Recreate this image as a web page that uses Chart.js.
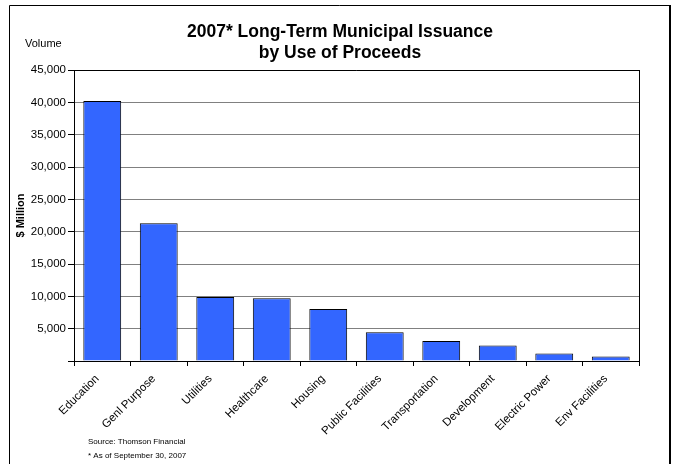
<!DOCTYPE html>
<html>
<head>
<meta charset="utf-8">
<script src="https://cdn.jsdelivr.net/npm/chart.js@4"></script>
<style>
  html, body { margin: 0; padding: 0; background: #fff; }
  #wrap { width: 676px; height: 464px; position: relative; }
</style>
</head>
<body>
<div id="wrap"><canvas id="c" width="676" height="464"></canvas></div>
<script>
const categories = ['Education', 'Genl Purpose', 'Utilities', 'Healthcare', 'Housing',
  'Public Facilities', 'Transportation', 'Development', 'Electric Power', 'Env Facilities'];
const volumes = [40200, 21300, 9900, 9700, 8050, 4450, 3100, 2400, 1150, 700];
const yMin = 0;
const yMax = 45000;
const yStep = 5000;
const titleLines = ['2007* Long-Term Municipal Issuance', 'by Use of Proceeds'];
const unitLabel = 'Volume';
const yAxisTitle = '$ Million';
const sourceLines = ['Source: Thomson Financial', '* As of September 30, 2007'];

const FONT = '"Liberation Sans", Arial, sans-serif';

const decor = {
  id: 'decor',
  beforeDatasetsDraw(chart) {
    const ctx = chart.ctx;
    const a = chart.chartArea;
    ctx.save();
    ctx.strokeStyle = '#000';
    ctx.lineWidth = 1;
    ctx.beginPath();
    ctx.moveTo(a.left, Math.round(a.top) + 0.5);
    ctx.lineTo(a.right, Math.round(a.top) + 0.5);
    ctx.moveTo(Math.round(a.right) + 0.5, a.top);
    ctx.lineTo(Math.round(a.right) + 0.5, a.bottom);
    ctx.stroke();
    ctx.restore();
  },
  afterDraw(chart) {
    const ctx = chart.ctx;
    ctx.save();
    // outer frame
    ctx.strokeStyle = '#000';
    ctx.lineWidth = 1;
    ctx.beginPath();
    ctx.moveTo(9.5, 470);
    ctx.lineTo(9.5, 5.5);
    ctx.lineTo(669, 5.5);
    ctx.stroke();
    ctx.lineWidth = 2;
    ctx.beginPath();
    ctx.moveTo(670, 5);
    ctx.lineTo(670, 470);
    ctx.stroke();
    // title
    ctx.fillStyle = '#000';
    ctx.textAlign = 'center';
    ctx.textBaseline = 'middle';
    ctx.font = 'bold 17.5px ' + FONT;
    ctx.fillText(titleLines[0], 340, 32);
    ctx.fillText(titleLines[1], 340, 53);
    // unit label
    ctx.font = '11px ' + FONT;
    ctx.textAlign = 'left';
    ctx.fillText(unitLabel, 25, 44);
    // source
    ctx.font = '8px ' + FONT;
    ctx.fillText(sourceLines[0], 88, 442);
    ctx.fillText(sourceLines[1], 88, 456);
    ctx.restore();
  }
};

new Chart(document.getElementById('c'), {
  type: 'bar',
  data: {
    labels: categories,
    datasets: [{
      data: volumes,
      backgroundColor: '#3366FF',
      borderColor: '#000',
      borderWidth: 1,
      barPercentage: 0.67,
      categoryPercentage: 1.0
    }]
  },
  options: {
    responsive: false,
    animation: false,
    devicePixelRatio: 1,
    layout: { padding: { left: 0, right: 37, top: 70, bottom: 0 } },
    plugins: {
      legend: { display: false },
      title: { display: false },
      tooltip: { enabled: false }
    },
    scales: {
      x: {
        afterFit(scale) { scale.height = 103; },
        grid: {
          drawOnChartArea: false,
          drawTicks: true,
          tickLength: 5,
          tickColor: '#000',
          offset: true
        },
        border: { color: '#000', width: 1 },
        ticks: {
          color: '#000',
          font: { family: FONT, size: 11.5 },
          minRotation: 45,
          maxRotation: 45,
          autoSkip: false,
          padding: 6,
          labelOffset: -5
        }
      },
      y: {
        min: yMin,
        max: yMax,
        afterFit(scale) { scale.width = 74; },
        grid: {
          color: '#808080',
          lineWidth: 1,
          drawTicks: true,
          tickLength: 6,
          tickColor: '#000'
        },
        border: { color: '#000', width: 1 },
        ticks: {
          stepSize: yStep,
          color: '#000',
          font: { family: FONT, size: 11.5 },
          padding: 2,
          callback(v) { return v === 0 ? '' : v.toLocaleString('en-US'); }
        },
        title: {
          display: true,
          text: yAxisTitle,
          color: '#000',
          font: { family: FONT, size: 11, weight: 'bold' },
          padding: { top: 14, bottom: 0 }
        }
      }
    }
  },
  plugins: [decor]
});
</script>
</body>
</html>
